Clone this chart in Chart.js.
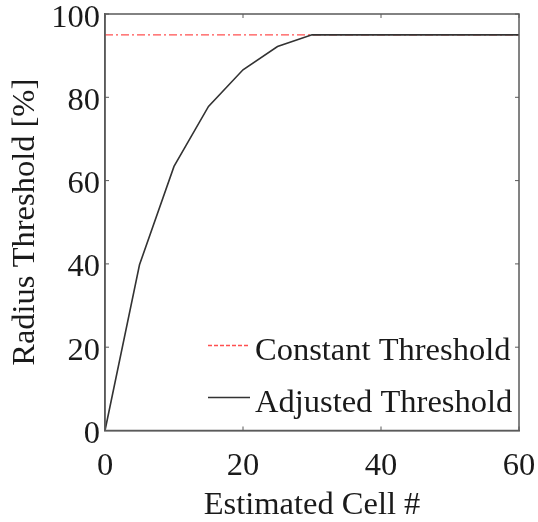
<!DOCTYPE html>
<html>
<head>
<meta charset="utf-8">
<script src="https://cdn.jsdelivr.net/npm/chart.js@4/dist/chart.umd.min.js"></script>
<style>
  html, body { margin: 0; padding: 0; background: #fff; }
  #wrap { width: 538px; height: 522px; }
</style>
</head>
<body>
<div id="wrap"><canvas id="c" width="538" height="522"></canvas></div>
<script>
// Estimated cell count (x) and radius threshold in percent (y)
const cellCounts = [0, 5, 10, 15, 20, 25, 30, 35, 40, 45, 50, 55, 60];
const adjustedThreshold = [0, 39.8, 63.4, 77.8, 86.6, 92.2, 95, 95, 95, 95, 95, 95, 95];
const constantThreshold = [95, 95, 95, 95, 95, 95, 95, 95, 95, 95, 95, 95, 95];
const xTicks = [0, 20, 40, 60];
const yTicks = [0, 20, 40, 60, 80, 100];

const FONT = "'Liberation Serif', 'Times New Roman', serif";
const FONT_SIZE = 32.5;
const AXIS_COLOR = '#5a5a5a';
const TEXT_COLOR = '#1a1a1a';

const toPoints = (ys) => cellCounts.map((x, i) => ({ x, y: ys[i] }));

// Frame around the plot with short inward ticks on all four sides
const framePlugin = {
  id: 'frame',
  afterDatasetsDraw(chart) {
    const { ctx, chartArea: a, scales } = chart;
    ctx.save();
    ctx.strokeStyle = AXIS_COLOR;
    ctx.lineWidth = 1.5;
    ctx.strokeRect(a.left, a.top, a.right - a.left, a.bottom - a.top);
    ctx.lineWidth = 1;
    const len = 4;
    xTicks.forEach(v => {
      const px = scales.x.getPixelForValue(v);
      ctx.beginPath();
      ctx.moveTo(px, a.bottom); ctx.lineTo(px, a.bottom - len);
      ctx.moveTo(px, a.top); ctx.lineTo(px, a.top + len);
      ctx.stroke();
    });
    yTicks.forEach(v => {
      const py = scales.y.getPixelForValue(v);
      ctx.beginPath();
      ctx.moveTo(a.left, py); ctx.lineTo(a.left + len, py);
      ctx.moveTo(a.right, py); ctx.lineTo(a.right - len, py);
      ctx.stroke();
    });
    ctx.restore();
  }
};

// Legend drawn inside the lower-right corner of the plot
const innerLegend = {
  id: 'innerLegend',
  afterDraw(chart) {
    const { ctx, chartArea: a } = chart;
    const rows = chart.data.datasets;
    ctx.save();
    ctx.font = FONT_SIZE + 'px ' + FONT;
    ctx.textBaseline = 'alphabetic';
    ctx.textAlign = 'left';
    const lineY = [Math.round(a.bottom - 86) + 0.5, Math.round(a.bottom - 34) + 0.5];
    rows.forEach((ds, i) => {
      const y = lineY[i];
      const x0 = a.left + 103;
      ctx.strokeStyle = ds.borderColor;
      ctx.lineWidth = ds.borderDash ? 1.3 : ds.borderWidth;
      ctx.setLineDash(ds.borderDash ? [4, 2] : []);
      ctx.beginPath();
      ctx.moveTo(x0, y); ctx.lineTo(x0 + 42, y);
      ctx.stroke();
      ctx.setLineDash([]);
      ctx.fillStyle = TEXT_COLOR;
      ctx.fillText(ds.label, x0 + 47, y + 14);
    });
    ctx.restore();
  }
};

new Chart(document.getElementById('c'), {
  type: 'line',
  data: {
    datasets: [
      {
        label: 'Constant Threshold',
        data: toPoints(constantThreshold),
        borderColor: '#ff5050',
        borderWidth: 1.2,
        borderDash: [8, 3, 2, 3],
        pointRadius: 0,
        tension: 0,
        order: 1
      },
      {
        label: 'Adjusted Threshold',
        data: toPoints(adjustedThreshold),
        borderColor: '#333333',
        borderWidth: 1.6,
        pointRadius: 0,
        tension: 0,
        order: 0
      }
    ]
  },
  options: {
    responsive: false,
    animation: false,
    devicePixelRatio: 1,
    layout: { padding: { top: 14, right: 19, left: 0, bottom: 0 } },
    plugins: { legend: { display: false }, tooltip: { enabled: false } },
    scales: {
      x: {
        type: 'linear',
        min: 0, max: 60,
        afterFit: (s) => { s.height = 91.5; s.paddingLeft = 0; s.paddingRight = 0; },
        afterBuildTicks: (s) => { s.ticks = xTicks.map(v => ({ value: v })); },
        grid: { display: false, drawTicks: false },
        border: { display: true, color: AXIS_COLOR, width: 1.5 },
        ticks: { color: TEXT_COLOR, font: { family: FONT, size: FONT_SIZE }, padding: 16, maxRotation: 0 },
        title: {
          display: true, text: 'Estimated Cell #', color: TEXT_COLOR,
          font: { family: FONT, size: FONT_SIZE }, padding: { top: 0, bottom: -3 }
        }
      },
      y: {
        type: 'linear',
        min: 0, max: 100,
        afterFit: (s) => { s.width = 105; s.paddingTop = 0; s.paddingBottom = 0; },
        afterBuildTicks: (s) => { s.ticks = yTicks.map(v => ({ value: v })); },
        grid: { display: false, drawTicks: false },
        border: { display: true, color: AXIS_COLOR, width: 1.5 },
        ticks: { color: TEXT_COLOR, font: { family: FONT, size: FONT_SIZE }, padding: 5, labelOffset: 4 },
        title: {
          display: true, text: 'Radius Threshold [%]', color: TEXT_COLOR,
          font: { family: FONT, size: FONT_SIZE }, padding: { top: 6, bottom: 0 }
        }
      }
    }
  },
  plugins: [framePlugin, innerLegend]
});
</script>
</body>
</html>
